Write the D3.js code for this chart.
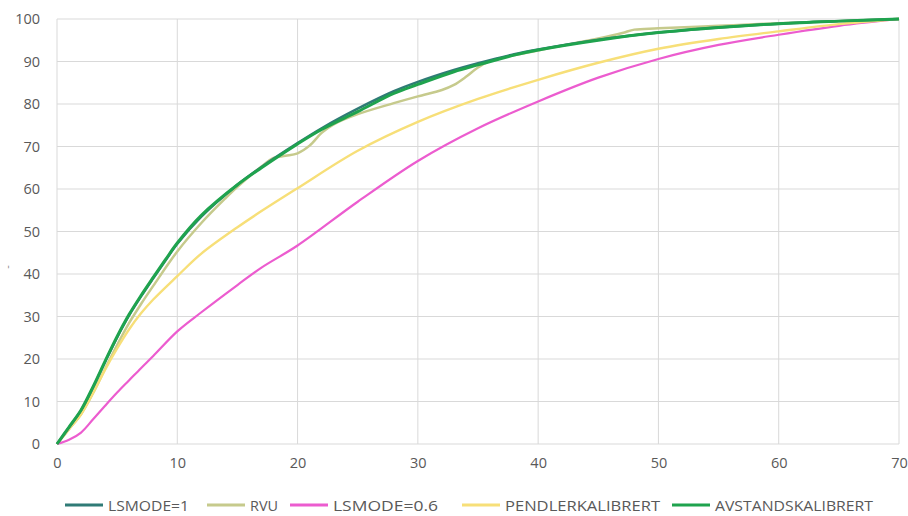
<!DOCTYPE html>
<html>
<head>
<meta charset="utf-8">
<script src="https://cdn.jsdelivr.net/npm/d3@7/dist/d3.min.js"></script>
<style>
  html, body { margin: 0; padding: 0; background: #fff; }
  svg { display: block; }
  .tick text { font-family: "Open Sans", sans-serif; fill: #595959; }
</style>
</head>
<body>
<svg id="chart" width="908" height="516"></svg>
<script>
// distance (km) vs cumulative share (%)
const seriesNames = ["LSMODE=1", "RVU", "LSMODE=0.6", "PENDLERKALIBRERT", "AVSTANDSKALIBRERT"];
const seriesColors = ["#2f7b76", "#c6ca8c", "#ec5ccf", "#f7df78", "#1fa34e"];

const lsmode1 = [[0,0],[1,3.9],[2,7.9],[3,13.3],[4,19.3],[5,25.1],[6,30.3],[7,34.8],[8,39],[9,43.1],[10,47.1],[12,53.5],[15,61],[17,65.2],[20,70.8],[22,74.3],[25,78.9],[28,83],[30,85.2],[33,88],[35,89.6],[38,91.7],[40,92.8],[45,95.1],[50,96.8],[55,98],[60,98.9],[65,99.5],[70,100]];
const rvu = [[0,0],[1,3.5],[2,7],[3,12],[4,17.7],[5,23.3],[6,28.5],[7,33],[8,37.2],[10,45.3],[12,52],[14,57.8],[15,60.5],[17,65.3],[18,67.3],[19,67.8],[20,68.4],[21,70.2],[22,73.2],[23,75.2],[25,77.6],[28,80.2],[30,81.8],[32,83.3],[33,84.5],[34,86.4],[35,88.6],[36,90.1],[40,92.6],[45,95.4],[47,96.7],[48,97.5],[50,97.8],[55,98.4],[60,99],[65,99.5],[70,100]];
const lsmode06 = [[0,0],[1,1],[2,2.7],[3,5.8],[4,9],[5,12.1],[6,15],[7,17.9],[8,20.7],[10,26.5],[12,31],[15,37.4],[17,41.5],[20,46.7],[25,57],[30,66.6],[35,74.3],[40,80.6],[45,86.2],[50,90.6],[55,93.9],[60,96.3],[65,98.4],[70,100]];
const pendler = [[0,0],[1,3.5],[2,7],[3,12],[4,17.5],[5,22.5],[6,27],[7,30.8],[8,34],[10,39.5],[12,44.8],[15,51],[17,54.8],[20,60.2],[25,69],[30,75.8],[35,81.2],[40,85.7],[45,89.7],[50,93],[55,95.3],[60,97.1],[65,98.8],[70,100]];
const avstand = [[0,0],[1,4],[2,8],[3,13.5],[4,19.5],[5,25.3],[6,30.5],[7,35],[8,39.2],[9,43.3],[10,47.3],[12,53.8],[15,61],[17,65],[20,70.6],[22,74],[25,78.2],[28,82.5],[30,84.6],[33,87.6],[35,89.2],[38,91.5],[40,92.7],[45,95],[50,96.8],[55,98],[60,98.9],[65,99.5],[70,100]];

const xTicks = [0, 10, 20, 30, 40, 50, 60, 70];
const yTicks = [0, 10, 20, 30, 40, 50, 60, 70, 80, 90, 100];

const allSeries = [lsmode1, rvu, lsmode06, pendler, avstand];
const strokeWidths = [2.5, 2.5, 2.2, 2.4, 3];

const svg = d3.select("#chart");
const margin = { top: 19, right: 9, bottom: 72, left: 57 };
const width = 908, height = 516;

const x = d3.scaleLinear().domain([0, 70]).range([margin.left, width - margin.right]);
const y = d3.scaleLinear().domain([0, 100]).range([height - margin.bottom, margin.top]);

// grid
svg.append("g")
  .selectAll("line")
  .data(yTicks)
  .join("line")
  .attr("x1", x(0)).attr("x2", x(70))
  .attr("y1", d => y(d)).attr("y2", d => y(d))
  .attr("stroke", "#d9d9d9").attr("stroke-width", 1);

svg.append("g")
  .selectAll("line")
  .data(xTicks)
  .join("line")
  .attr("x1", d => x(d)).attr("x2", d => x(d))
  .attr("y1", y(0)).attr("y2", y(100))
  .attr("stroke", "#d9d9d9").attr("stroke-width", 1);

// axes (labels only)
const xAxis = svg.append("g")
  .attr("transform", `translate(0, ${y(0)})`)
  .call(d3.axisBottom(x).tickValues(xTicks).tickSize(0).tickPadding(14));
xAxis.select(".domain").remove();
xAxis.selectAll("text").attr("font-size", 14.5);

const yAxis = svg.append("g")
  .attr("transform", `translate(${margin.left}, 0)`)
  .call(d3.axisLeft(y).tickValues(yTicks).tickSize(0).tickPadding(17));
yAxis.select(".domain").remove();
yAxis.selectAll("text").attr("font-size", 14.5);

// stray empty axis title mark
svg.append("text")
  .attr("transform", "translate(11, 267) rotate(-90)")
  .attr("text-anchor", "middle")
  .attr("font-family", "Open Sans, sans-serif")
  .attr("font-size", 11)
  .attr("fill", "#8a8a8a")
  .text("-");

const line = d3.line()
  .x(d => x(d[0]))
  .y(d => y(d[1]))
  .curve(d3.curveCatmullRom.alpha(0.5));

// draw order: RVU, pink, yellow, teal, green on top
const order = [1, 2, 3, 0, 4];
order.forEach(i => {
  svg.append("path")
    .datum(allSeries[i])
    .attr("fill", "none")
    .attr("stroke", seriesColors[i])
    .attr("stroke-width", strokeWidths[i])
    .attr("stroke-linejoin", "round")
    .attr("d", line);
});

// legend
const legendX = [65, 207, 290, 462, 672];
const legendTextWidth = [81, 28, 105, 155, 158];
const legend = svg.append("g").attr("transform", "translate(0, 505)");
seriesNames.forEach((name, i) => {
  const g = legend.append("g").attr("transform", `translate(${legendX[i]}, 0)`);
  g.append("line")
    .attr("x1", 0).attr("x2", 38)
    .attr("y1", 0).attr("y2", 0)
    .attr("stroke", seriesColors[i])
    .attr("stroke-width", 3);
  g.append("text")
    .attr("x", 43)
    .attr("y", 5.5)
    .attr("font-family", "Open Sans, sans-serif")
    .attr("font-size", 15)
    .attr("fill", "#595959")
    .attr("textLength", legendTextWidth[i])
    .attr("lengthAdjust", "spacingAndGlyphs")
    .text(name);
});
</script>
</body>
</html>
